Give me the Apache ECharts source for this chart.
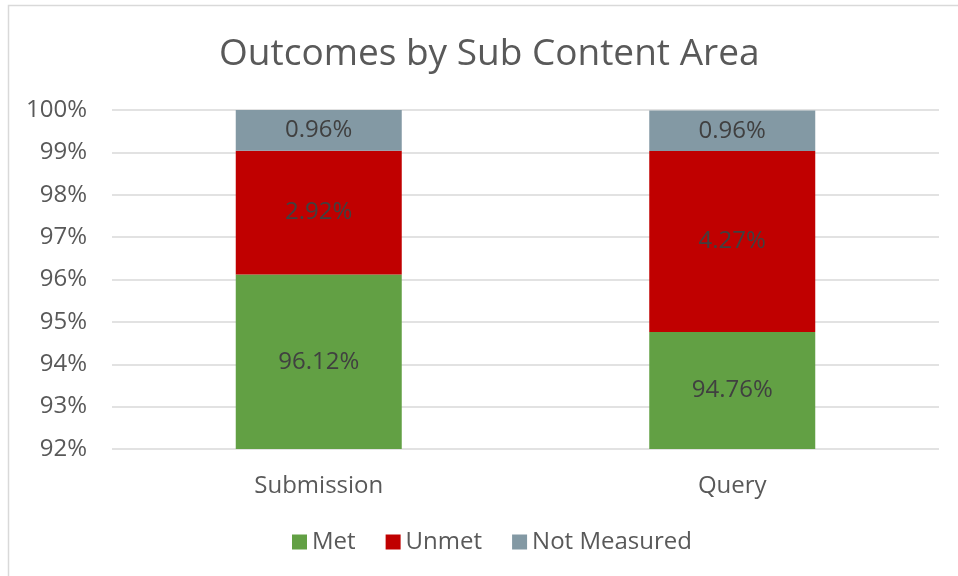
<!DOCTYPE html>
<html>
<head>
<meta charset="utf-8">
<script src="https://cdn.jsdelivr.net/npm/echarts@6/dist/echarts.min.js"></script>
<style>html,body{margin:0;padding:0;background:#fff;}#c{width:958px;height:576px;}</style>
</head>
<body>
<div id="c"></div>
<script>
const categories = ['Submission', 'Query'];
const metValues = [96.12, 94.76];
const unmetValues = [2.92, 4.27];
const notMeasuredValues = [0.96, 0.96];
const yTicks = [92, 93, 94, 95, 96, 97, 98, 99, 100];

const FONT = '"Open Sans", "Noto Sans", sans-serif';
const chart = echarts.init(document.getElementById('c'), null, {renderer: 'canvas'});
const labelCfg = {
  show: true, position: 'inside', color: '#404040', fontSize: 24, fontFamily: FONT,
  formatter: p => p.value.toFixed(2) + '%'
};
function mk(name, data, color) {
  return {
    name, type: 'bar', stack: 'total', data, barWidth: 166,
    itemStyle: {color}, label: labelCfg, emphasis: {disabled: true}, clip: true
  };
}
chart.setOption({
  animation: false,
  graphic: [{type: 'rect', shape: {x: 8.5, y: 5.5, width: 980, height: 600},
    style: {fill: 'none', stroke: '#d9d9d9', lineWidth: 1.5}, silent: true}],
  title: {text: 'Outcomes by Sub Content Area', left: 214, top: 31,
    textStyle: {fontFamily: FONT, fontSize: 37, fontWeight: 'normal', color: '#595959'}},
  legend: {bottom: 17, left: 287, itemWidth: 15, itemHeight: 15, itemGap: 30,
    icon: 'rect', textStyle: {fontFamily: FONT, fontSize: 24, color: '#595959'}},
  grid: {left: 112, right: 19, top: 110, bottom: 127, containLabel: false},
  xAxis: {type: 'category', data: categories,
    axisLine: {show: false}, axisTick: {show: false},
    axisLabel: {fontFamily: FONT, fontSize: 24, color: '#595959', margin: 25}},
  yAxis: {type: 'value', min: yTicks[0], max: yTicks[yTicks.length - 1], interval: 1,
    axisLine: {show: false}, axisTick: {show: false},
    splitLine: {lineStyle: {color: '#d9d9d9', width: 1.5}},
    axisLabel: {fontFamily: FONT, fontSize: 24, color: '#595959', margin: 25,
      formatter: v => v + '%'}},
  series: [
    mk('Met', metValues, '#62a044'),
    mk('Unmet', unmetValues, '#c00000'),
    mk('Not Measured', notMeasuredValues, '#8399a4')
  ]
});
</script>
</body>
</html>
